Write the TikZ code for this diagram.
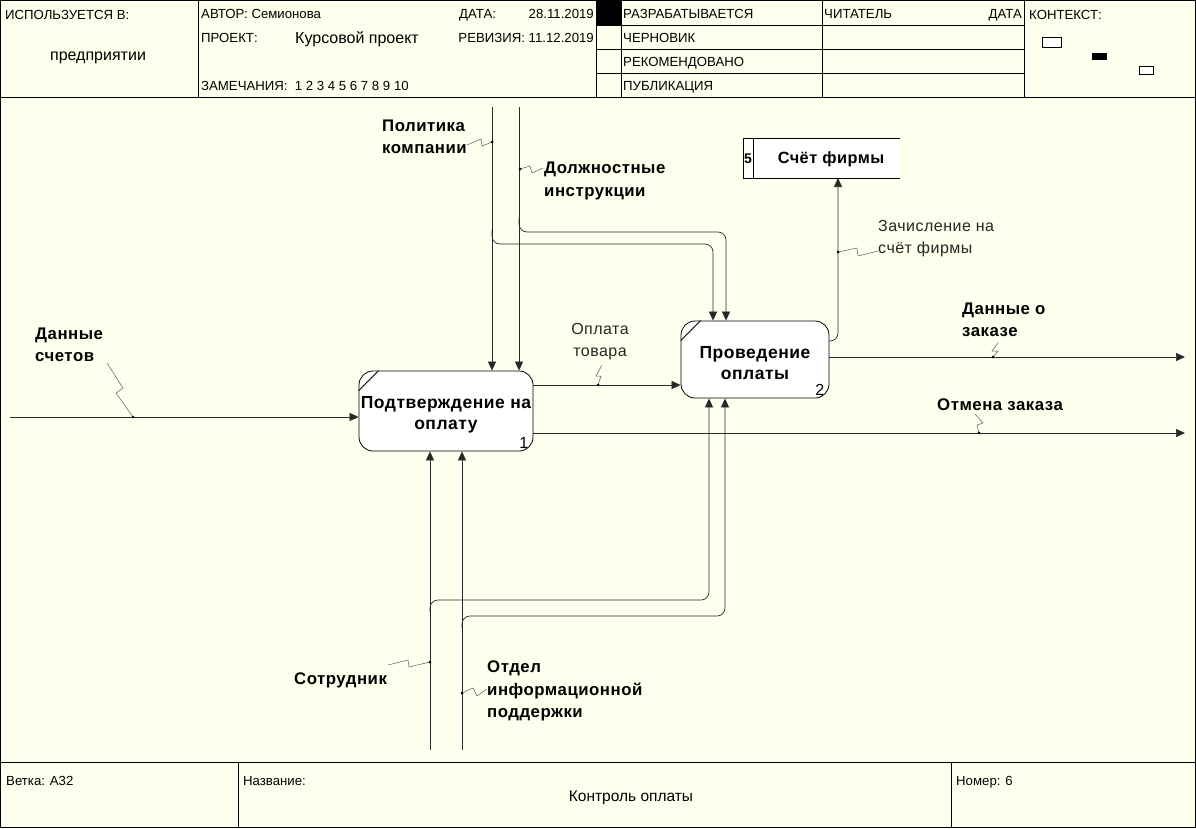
\documentclass[tikz,border=0pt]{standalone}
\usepackage{fontspec}
\setmainfont{Liberation Sans}
\newfontfamily\lblfont[LetterSpace=3]{Liberation Sans}
\usetikzlibrary{arrows.meta,calc}
\definecolor{bg}{RGB}{255,255,238}
\definecolor{ln}{RGB}{40,40,40}
\definecolor{sqc}{RGB}{90,90,90}
\begin{document}
\begin{tikzpicture}[x=1pt,y=-1pt,
  hdr/.style={font=\fontsize{13.2}{15}\selectfont, inner sep=0pt, text height=10.7pt, text depth=1.3pt},
  lbl/.style={font=\lblfont\bfseries\fontsize{16.8}{22.4}\selectfont, inner sep=0pt, align=left},
  lblr/.style={font=\lblfont\fontsize{16}{22}\selectfont, inner sep=0pt, align=left, text=black!85},
  box/.style={draw=black, fill=white, line width=0.8pt, rounded corners=14pt, minimum width=174pt, minimum height=80pt, inner sep=0pt},
  boxtxt/.style={inner sep=0pt, align=center, font=\lblfont\bfseries\fontsize{17.5}{22}\selectfont},
  conn/.style={draw=ln, line width=0.7pt},
  arr/.style={conn, -{Triangle[length=9pt,width=8pt]}},
  sq/.style={draw=sqc, line width=0.5pt},
  dotc/.style={circle, fill=black, inner sep=0pt, minimum size=3pt}
]
\useasboundingbox (0,0) rectangle (1196,828);
\fill[bg] (0,0) rectangle (1196,828);
% frame
\draw[line width=1.4pt] (0.7,0.7) rectangle (1195.3,827.3);
\draw[line width=1pt] (0,97) -- (1196,97);
\draw[line width=1pt] (0,762) -- (1196,762);
\foreach \xx in {198,596,621,822,1024} \draw[line width=1pt] (\xx,0) -- (\xx,97);
\foreach \yy in {25,49,73} \draw[line width=1pt] (596,\yy) -- (1024,\yy);
\fill[black] (596,0) rectangle (621,25);
\foreach \xx in {238,951} \draw[line width=1pt] (\xx,762) -- (\xx,828);
% context
\draw[fill=white, line width=0.8pt] (1042,37) rectangle (1061,47);
\fill[black] (1092,53) rectangle (1107,60);
\draw[fill=white, line width=0.8pt] (1139,66) rectangle (1153,74);
% header text
\node[hdr, anchor=west] (h1) at (5,15) {ИСПОЛЬЗУЕТСЯ В:};
\node[hdr, font=\fontsize{16}{18}\selectfont] (h2) at (98,56) {предприятии};
\node[hdr, anchor=west] (h3) at (201,14) {АВТОР: Семионова};
\node[hdr, anchor=west] (h4) at (201,38) {ПРОЕКТ:};
\node[hdr, anchor=west, font=\fontsize{16}{18}\selectfont] (h5) at (295,39) {Курсовой проект};
\node[hdr, anchor=west] (h6) at (201,86) {ЗАМЕЧАНИЯ:\ \ 1 2 3 4 5 6 7 8 9 10};
\node[hdr, anchor=west] (h7) at (459,14) {ДАТА:};
\node[hdr, anchor=east] (h8) at (594,14) {28.11.2019};
\node[hdr, anchor=east] (h9) at (594,38) {РЕВИЗИЯ: 11.12.2019};
\node[hdr, anchor=west] (h10) at (623,14) {РАЗРАБАТЫВАЕТСЯ};
\node[hdr, anchor=west] (h11) at (623,38) {ЧЕРНОВИК};
\node[hdr, anchor=west] (h12) at (623,62) {РЕКОМЕНДОВАНО};
\node[hdr, anchor=west] (h13) at (623,86) {ПУБЛИКАЦИЯ};
\node[hdr, anchor=west] (h14) at (824,14) {ЧИТАТЕЛЬ};
\node[hdr, anchor=east] (h15) at (1022,14) {ДАТА};
\node[hdr, anchor=west] (h16) at (1029,15) {КОНТЕКСТ:};
% footer text
\node[hdr, anchor=west] (f1) at (6,781) {Ветка: А32};
\node[hdr, anchor=west] (f2) at (243,781) {Название:};
\node[hdr, font=\fontsize{15.5}{17}\selectfont] (f3) at (631,797) {Контроль оплаты};
\node[hdr, anchor=west] (f4) at (956,781) {Номер: 6};
% boxes
\node[box] (b1) at (446,411) {};
\node[boxtxt] (t1) at (446,415) {Подтверждение на\\[-1pt]оплату};
\draw[line width=0.8pt] ($(b1.north west)+(0,20)$) -- ($(b1.north west)+(20,0)$);
\node[anchor=south east, inner sep=0pt, font=\fontsize{16}{16}\selectfont] (n1) at ($(b1.south east)+(-5,-3)$) {1};
\node[box, minimum width=148pt, minimum height=77pt] (b2) at (755,359.5) {};
\node[boxtxt] (t2) at (755,363) {Проведение\\[-1pt]оплаты};
\draw[line width=0.8pt] ($(b2.north west)+(0,20)$) -- ($(b2.north west)+(20,0)$);
\node[anchor=south east, inner sep=0pt, font=\fontsize{16}{16}\selectfont] (n2) at ($(b2.south east)+(-5,-3)$) {2};
% store
\fill[white] (743,138) rectangle (900,178);
\draw[line width=0.8pt] (900,138) -- (743,138) -- (743,178) -- (900,178);
\draw[line width=0.8pt] (753,138) -- (753,178);
\node[inner sep=0pt, font=\bfseries\fontsize{14}{15}\selectfont] (s5n) at (748,159) {5};
\node[inner sep=0pt, font=\lblfont\bfseries\fontsize{16.3}{17}\selectfont] (s5) at (831,159) {Счёт фирмы};
\coordinate (s5b) at (838,178);
% coordinates
\coordinate (inL) at (10,417);
\coordinate (c1t) at (492,107);
\coordinate (c2t) at (519,107);
\coordinate (m1b) at (430,750);
\coordinate (m2b) at (462,750);
\coordinate (oplY) at (600,385);
\coordinate (otmR) at (1185,433);
\coordinate (dzR) at (1185,357);
% connectors
\draw[arr] (inL) -- (inL -| b1.west);
\draw[arr] (c1t) -- (c1t |- b1.north);
\draw[arr] (c2t) -- (c2t |- b1.north);
\draw[arr, rounded corners=8pt] (492,230) -- (492,244) -- (713,244) -- (713,0 |- b2.north);
\draw[arr, rounded corners=8pt] (519,218) -- (519,232) -- (726,232) -- (726,0 |- b2.north);
\draw[arr] (b1.east |- oplY) -- (b2.west |- oplY);
\draw[arr] (b1.east |- otmR) -- (otmR);
\draw[arr] (b2.east |- dzR) -- (dzR);
\draw[arr, rounded corners=8pt] (829,341) -- (838,341) -- (s5b);
\draw[arr] (m1b) -- (m1b |- b1.south);
\draw[arr] (m2b) -- (m2b |- b1.south);
\draw[arr, rounded corners=8pt] (430,612) -- (430,600) -- (709,600) -- (709,0 |- b2.south);
\draw[arr, rounded corners=8pt] (462,628) -- (462,616) -- (725,616) -- (725,0 |- b2.south);
% labels
\node[lbl, anchor=west] (l1) at (35,345) {Данные\\счетов};
\node[lbl, anchor=west] (l2) at (382,137) {Политика\\компании};
\node[lbl, anchor=west] (l3) at (544,181) {Должностные\\инструкции};
\node[lblr, align=center] (l4) at (600,342) {Оплата\\товара};
\node[lblr, anchor=west] (l5) at (878,239) {Зачисление на\\счёт фирмы};
\node[lbl, anchor=west] (l6) at (962,320) {Данные о\\заказе};
\node[lbl, anchor=west] (l7) at (937,405) {Отмена заказа};
\node[lbl, anchor=west] (l8) at (294,680) {Сотрудник};
\node[lbl, anchor=west, font=\lblfont\bfseries\fontsize{16.8}{22.6}\selectfont] (l9) at (487,691) {Отдел\\информационной\\поддержки};
% squiggles
\draw[sq] (107,363) -- (123,388) -- (116,393) -- (133,417);
\node[dotc] (d1) at (133,417) {};
\draw[sq] (467,145) -- (481,139) -- (482,146) -- (492,142);
\node[dotc] (d2) at (492,142) {};
\draw[sq] (520,169) -- (530,166) -- (532,173) -- (543,168);
\node[dotc] (d3) at (520,169) {};
\draw[sq] (602,365) -- (596,376) -- (601,376) -- (598,385);
\node[dotc] (d4) at (598,385) {};
\draw[sq] (838,252) -- (857,248) -- (858,256) -- (878,251);
\node[dotc] (d5) at (838,252) {};
\draw[sq] (998,343) -- (992,351) -- (998,351) -- (993,357);
\node[dotc] (d6) at (993,357) {};
\draw[sq] (975,414) -- (983,423) -- (977,425) -- (979,433);
\node[dotc] (d7) at (979,433) {};
\draw[sq] (388,665) -- (408,660) -- (409,667) -- (430,662);
\node[dotc] (d8) at (430,662) {};
\draw[sq] (462,693) -- (473,688) -- (477,696) -- (487,689);
\node[dotc] (d9) at (462,693) {};
\end{tikzpicture}
\end{document}
